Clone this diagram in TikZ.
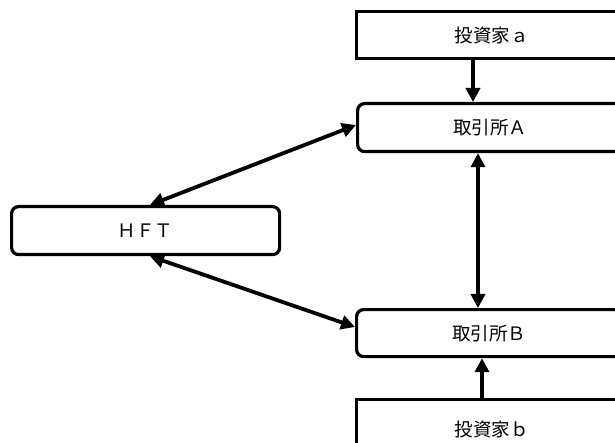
\documentclass[tikz,border=0pt]{standalone}
\usepackage{fontspec}
\setmainfont{Noto Sans CJK JP}
\usetikzlibrary{arrows.meta}
\begin{document}
\begin{tikzpicture}[x=1pt,y=-1pt,
  box/.style={draw=black, line width=3.2pt, fill=white, font=\fontsize{18.5}{22}\selectfont},
  sq/.style={box},
  rd/.style={box, rounded corners=7pt},
  conn/.style={line width=3.8pt, -{Triangle[length=14pt,width=14pt]}},
  bconn/.style={line width=3.8pt, {Triangle[length=14pt,width=14pt]}-{Triangle[length=14pt,width=14pt]}}]
\useasboundingbox (0,0) rectangle (615,443);
\clip (0,0) rectangle (615,443);
\fill[white] (0,0) rectangle (615,443);
\node[sq, minimum width=270pt, minimum height=47pt, anchor=north west] (ia) at (355,10) {投資家ａ};
\node[rd, minimum width=265pt, minimum height=48pt, anchor=north west] (xa) at (356,102) {取引所Ａ};
\node[rd, minimum width=268pt, minimum height=48pt, anchor=north west] (hft) at (10,205) {ＨＦＴ};
\node[rd, minimum width=265pt, minimum height=47pt, anchor=north west] (xb) at (355,308) {取引所Ｂ};
\node[sq, minimum width=270pt, minimum height=60pt, anchor=north west] (ib) at (355,398) {投資家ｂ};
\draw[conn] (ia.south -| 473,0) -- (xa.north -| 473,0);
\draw[bconn] (xa.south -| 478,0) -- (xb.north -| 478,0);
\draw[conn] (ib.north -| 482,0) -- (xb.south -| 482,0);
\draw[bconn] (hft.north -| 150,0) -- (xa.west |- 0,125);
\draw[bconn] (hft.south -| 150,0) -- (xb.west |- 0,327);
\end{tikzpicture}
\end{document}
